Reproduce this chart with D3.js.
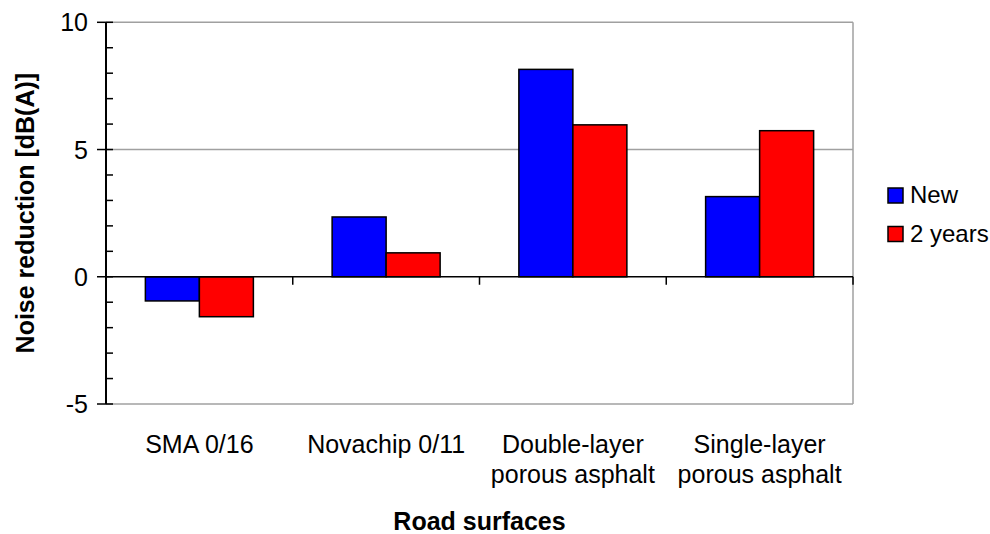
<!DOCTYPE html>
<html>
<head>
<meta charset="utf-8">
<script src="https://cdn.jsdelivr.net/npm/d3@7"></script>
<style>
  html, body { margin: 0; padding: 0; background: #fff; }
  svg { display: block; }
  text { font-family: "Liberation Sans", Arial, sans-serif; fill: #000; }
</style>
</head>
<body>
<svg id="chart" width="990" height="534"></svg>
<script>
const categories = [["SMA 0/16"], ["Novachip 0/11"], ["Double-layer", "porous asphalt"], ["Single-layer", "porous asphalt"]];
const seriesNames = ["New", "2 years"];
const seriesColors = ["#0000ff", "#ff0000"];
const valuesNew = [-0.95, 2.35, 8.15, 3.15];
const values2Years = [-1.57, 0.94, 5.97, 5.74];
const yTicks = [-5, 0, 5, 10];
const yMinorTicks = [-4, -3, -2, -1, 1, 2, 3, 4, 6, 7, 8, 9];

const svg = d3.select("#chart");
const plot = { left: 106, right: 853, top: 22.3, bottom: 404 };

const catKeys = categories.map(c => c.join(" "));
const x0 = d3.scaleBand().domain(catKeys).range([plot.left, plot.right]).padding(0);
const x1 = d3.scaleBand().domain(seriesNames).range([0, x0.bandwidth()]).paddingInner(0).paddingOuter(0.729);
const y = d3.scaleLinear().domain([-5, 10]).range([plot.bottom, plot.top]);

// gridlines (gray) at major ticks except 0
svg.append("g").selectAll("line").data(yTicks.filter(d => d !== 0)).join("line")
  .attr("x1", plot.left).attr("x2", plot.right)
  .attr("y1", d => y(d)).attr("y2", d => y(d))
  .attr("stroke", "#a0a0a0").attr("stroke-width", 1.5);
// right border
svg.append("line").attr("x1", plot.right).attr("x2", plot.right)
  .attr("y1", plot.top).attr("y2", plot.bottom)
  .attr("stroke", "#a0a0a0").attr("stroke-width", 1.5);

// bars
const data = [];
catKeys.forEach((c, i) => {
  data.push({ cat: c, s: seriesNames[0], v: valuesNew[i], color: seriesColors[0] });
  data.push({ cat: c, s: seriesNames[1], v: values2Years[i], color: seriesColors[1] });
});
svg.append("g").selectAll("rect").data(data).join("rect")
  .attr("x", d => x0(d.cat) + x1(d.s))
  .attr("width", x1.bandwidth())
  .attr("y", d => Math.min(y(d.v), y(0)))
  .attr("height", d => Math.abs(y(d.v) - y(0)))
  .attr("fill", d => d.color)
  .attr("stroke", "#000").attr("stroke-width", 1.5);

// zero line (x axis) with ticks at category boundaries
svg.append("line").attr("x1", plot.left).attr("x2", plot.right)
  .attr("y1", y(0)).attr("y2", y(0))
  .attr("stroke", "#000").attr("stroke-width", 1.5);
const boundaries = catKeys.slice(1).map(c => x0(c)).concat([plot.right]);
svg.append("g").selectAll("line").data(boundaries).join("line")
  .attr("x1", d => d).attr("x2", d => d)
  .attr("y1", y(0)).attr("y2", y(0) + 8)
  .attr("stroke", "#000").attr("stroke-width", 1.5);

// y axis
svg.append("line").attr("x1", plot.left).attr("x2", plot.left)
  .attr("y1", plot.top).attr("y2", plot.bottom)
  .attr("stroke", "#000").attr("stroke-width", 2);
svg.append("g").selectAll("line").data(yTicks).join("line")
  .attr("x1", plot.left - 9).attr("x2", plot.left + 7)
  .attr("y1", d => y(d)).attr("y2", d => y(d))
  .attr("stroke", "#000").attr("stroke-width", 1.5);
svg.append("g").selectAll("line").data(yMinorTicks).join("line")
  .attr("x1", plot.left).attr("x2", plot.left + 7)
  .attr("y1", d => y(d)).attr("y2", d => y(d))
  .attr("stroke", "#000").attr("stroke-width", 1.5);
svg.append("g").selectAll("text").data(yTicks).join("text")
  .attr("x", 88).attr("y", d => y(d)).attr("dy", "0.36em")
  .attr("text-anchor", "end").style("font-size", "25px")
  .text(d => d);

// category labels
const catG = svg.append("g").selectAll("text").data(categories).join("text")
  .attr("text-anchor", "middle").style("font-size", "25px")
  .attr("x", (d, i) => x0(catKeys[i]) + x0.bandwidth() / 2)
  .attr("y", 453);
catG.selectAll("tspan").data(d => d).join("tspan")
  .attr("x", function () { return d3.select(this.parentNode).attr("x"); })
  .attr("dy", (d, i) => i === 0 ? 0 : 30)
  .text(d => d);

// axis titles
svg.append("text").attr("x", (plot.left + plot.right) / 2).attr("y", 530)
  .attr("text-anchor", "middle").style("font-size", "25px").style("font-weight", "bold")
  .text("Road surfaces");
svg.append("text").attr("transform", `translate(34,${(plot.top + plot.bottom) / 2}) rotate(-90)`)
  .attr("text-anchor", "middle").style("font-size", "25px").style("font-weight", "bold")
  .text("Noise reduction [dB(A)]");

// legend
const legend = svg.append("g").selectAll("g").data(seriesNames).join("g")
  .attr("transform", (d, i) => `translate(888,${188 + i * 38.5})`);
legend.append("rect").attr("width", 15).attr("height", 15)
  .attr("fill", (d, i) => seriesColors[i]).attr("stroke", "#000").attr("stroke-width", 1.5);
legend.append("text").attr("x", 22).attr("y", 15).style("font-size", "24px").text(d => d);
</script>
</body>
</html>
